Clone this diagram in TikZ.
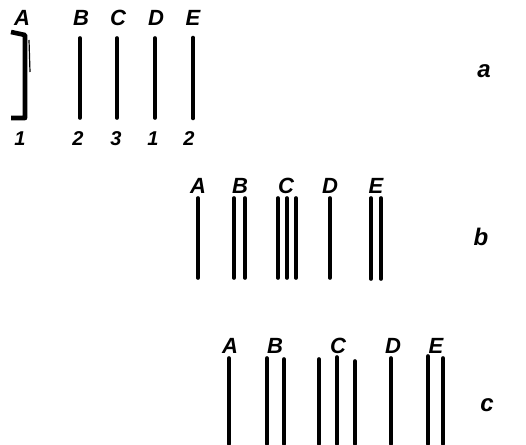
\documentclass[tikz,border=0pt]{standalone}
\usepackage{fontspec}
\setmainfont{Liberation Sans}
\begin{document}
\begin{tikzpicture}[x=1pt,y=-1pt,
  lab/.style={font=\fontsize{22}{22}\selectfont\bfseries\itshape,inner sep=0pt},
  num/.style={font=\fontsize{20}{20}\selectfont\bfseries\itshape,inner sep=0pt},
  side/.style={font=\fontsize{24}{24}\selectfont\bfseries\itshape,inner sep=0pt},
  bar/.style={line width=3.6pt,line cap=round},
  thickbar/.style={line width=4.6pt,line cap=round}]
\useasboundingbox (0,0) rectangle (526,444);
% row a
\node[lab] (aA) at (22,18) {A};
\node[lab] (aB) at (81,18) {B};
\node[lab] (aC) at (118,18) {C};
\node[lab] (aD) at (156,18) {D};
\node[lab] (aE) at (193,18) {E};
\draw[thickbar,line cap=butt,line join=round] (11,32) -- (25,35) -- (25,118) -- (11,118);
\draw[line width=1.2pt] (29,40) -- (30,72);
\draw[bar] (80,38) -- (80,118);
\draw[bar] (117,38) -- (117,118);
\draw[bar] (155,38) -- (155,118);
\draw[thickbar] (193,38) -- (193,118);
\node[num] (n1) at (20,139) {1};
\node[num] (n2) at (78,139) {2};
\node[num] (n3) at (116,139) {3};
\node[num] (n4) at (153,139) {1};
\node[num] (n5) at (189,139) {2};
\node[side] (sa) at (484,71) {a};
% row b
\node[lab] (bA) at (198,186) {A};
\node[lab] (bB) at (240,186) {B};
\node[lab] (bC) at (286,186) {C};
\node[lab] (bD) at (330,186) {D};
\node[lab] (bE) at (376,186) {E};
\draw[bar] (198,198) -- (198,278);
\draw[bar] (234,198) -- (234,278);
\draw[bar] (245,198) -- (245,278);
\draw[bar] (278,198) -- (278,278);
\draw[bar] (287,198) -- (287,278);
\draw[bar] (296,198) -- (296,278);
\draw[bar] (330,198) -- (330,278);
\draw[bar] (371,198) -- (371,279);
\draw[bar] (381,198) -- (381,279);
\node[side] (sb) at (481,237) {b};
% row c
\node[lab] (cA) at (230,346) {A};
\node[lab] (cB) at (275,346) {B};
\node[lab] (cC) at (338,346) {C};
\node[lab] (cD) at (393,346) {D};
\node[lab] (cE) at (436,346) {E};
\draw[bar] (229,358) -- (229,444);
\draw[bar] (267,358) -- (267,444);
\draw[bar] (284,359) -- (284,444);
\draw[bar] (319,359) -- (319,444);
\draw[bar] (337,357) -- (337,444);
\draw[bar] (355,361) -- (355,444);
\draw[bar] (391,358) -- (391,444);
\draw[bar] (428,356) -- (428,444);
\draw[bar] (443,358) -- (443,444);
\node[side] (sc) at (487,405) {c};
\end{tikzpicture}
\end{document}
